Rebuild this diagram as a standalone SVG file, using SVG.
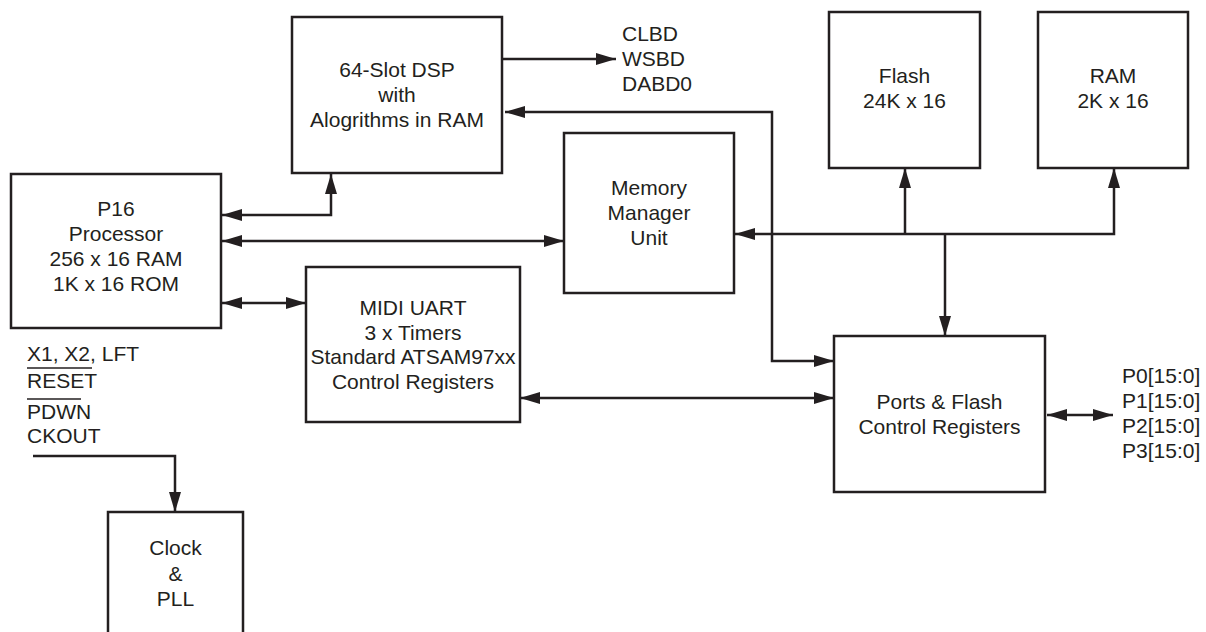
<svg xmlns="http://www.w3.org/2000/svg" width="1206" height="632" viewBox="0 0 1206 632">
<defs>
<style>
.box{fill:#fff;stroke:#231f20;stroke-width:2.5}
.ln{fill:none;stroke:#231f20;stroke-width:2.5}
.t{font-family:"Liberation Sans",Arial,sans-serif;font-size:21px;fill:#231f20}
.c{text-anchor:middle}
.ol{stroke:#231f20;stroke-width:1.5}
</style>
<marker id="ah" markerUnits="userSpaceOnUse" markerWidth="20" markerHeight="12" refX="20" refY="6" orient="auto-start-reverse" viewBox="0 0 20 12">
<path d="M0,0 L20,6 L0,12 z" fill="#231f20"/>
</marker>
</defs>
<rect width="1206" height="632" fill="#fff"/>
<g id="connectors">
<path class="ln" d="M502,59 H616" marker-end="url(#ah)"/>
<path class="ln" d="M834,361 H772 V112 H505" marker-start="url(#ah)" marker-end="url(#ah)"/>
<path class="ln" d="M222,215 H331 V174" marker-start="url(#ah)" marker-end="url(#ah)"/>
<path class="ln" d="M222,241 H564" marker-start="url(#ah)" marker-end="url(#ah)"/>
<path class="ln" d="M222,303 H306" marker-start="url(#ah)" marker-end="url(#ah)"/>
<path class="ln" d="M1114,168 V234 H735" marker-start="url(#ah)" marker-end="url(#ah)"/>
<path class="ln" d="M905,234 V168" marker-end="url(#ah)"/>
<path class="ln" d="M945,234 V336" marker-end="url(#ah)"/>
<path class="ln" d="M520,398 H834" marker-start="url(#ah)" marker-end="url(#ah)"/>
<path class="ln" d="M1047,415 H1113" marker-start="url(#ah)" marker-end="url(#ah)"/>
<path class="ln" d="M33,456 H175 V512" marker-end="url(#ah)"/>
</g>
<g id="dsp">
<rect class="box" x="292" y="17" width="210" height="156"/>
<text class="t c" x="397" y="77">64-Slot DSP</text>
<text class="t c" x="397" y="102">with</text>
<text class="t c" x="397" y="127">Alogrithms in RAM</text>
</g>
<g id="dsp-out">
<text class="t" x="622" y="41">CLBD</text>
<text class="t" x="622" y="66">WSBD</text>
<text class="t" x="622" y="91">DABD0</text>
</g>
<g id="p16">
<rect class="box" x="11" y="174" width="210" height="154"/>
<text class="t c" x="116" y="216">P16</text>
<text class="t c" x="116" y="241">Processor</text>
<text class="t c" x="116" y="266">256 x 16 RAM</text>
<text class="t c" x="116" y="291">1K x 16 ROM</text>
</g>
<g id="mmu">
<rect class="box" x="564" y="133" width="170" height="160"/>
<text class="t c" x="649" y="195">Memory</text>
<text class="t c" x="649" y="220">Manager</text>
<text class="t c" x="649" y="245">Unit</text>
</g>
<g id="midi">
<rect class="box" x="306" y="267" width="214" height="155"/>
<text class="t c" x="413" y="315">MIDI UART</text>
<text class="t c" x="413" y="340">3 x Timers</text>
<text class="t c" x="413" y="364">Standard ATSAM97xx</text>
<text class="t c" x="413" y="389">Control Registers</text>
</g>
<g id="flash">
<rect class="box" x="829" y="12" width="151" height="156"/>
<text class="t c" x="904.5" y="83">Flash</text>
<text class="t c" x="904.5" y="108">24K x 16</text>
</g>
<g id="ram">
<rect class="box" x="1038" y="12" width="150" height="156"/>
<text class="t c" x="1113" y="83">RAM</text>
<text class="t c" x="1113" y="108">2K x 16</text>
</g>
<g id="ports">
<rect class="box" x="834" y="336" width="211" height="156"/>
<text class="t c" x="939.5" y="409">Ports &amp; Flash</text>
<text class="t c" x="939.5" y="434">Control Registers</text>
</g>
<g id="port-labels">
<text class="t" x="1122" y="383">P0[15:0]</text>
<text class="t" x="1122" y="408">P1[15:0]</text>
<text class="t" x="1122" y="433">P2[15:0]</text>
<text class="t" x="1122" y="458">P3[15:0]</text>
</g>
<g id="clock-signals">
<text class="t" x="27" y="361">X1, X2, LFT</text>
<line class="ol" x1="27" y1="368" x2="92" y2="368"/>
<text class="t" x="27" y="388">RESET</text>
<line class="ol" x1="27" y1="399" x2="81" y2="399"/>
<text class="t" x="27" y="419">PDWN</text>
<text class="t" x="27" y="443">CKOUT</text>
</g>
<g id="clock">
<rect class="box" x="108" y="512" width="135" height="130"/>
<text class="t c" x="175.5" y="555">Clock</text>
<text class="t c" x="175.5" y="581">&amp;</text>
<text class="t c" x="175.5" y="606">PLL</text>
</g>
</svg>
